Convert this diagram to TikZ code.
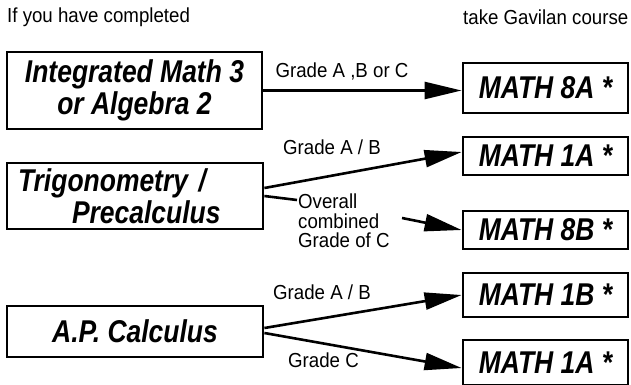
\documentclass[tikz,border=0pt]{standalone}
\usepackage{fontspec}
\setmainfont{Liberation Sans}
\newfontfamily\boxfont[FakeStretch=0.84]{Liberation Sans}
\newfontfamily\lblfont[FakeStretch=0.92]{Liberation Sans}
\usetikzlibrary{arrows.meta}
\begin{document}
\begin{tikzpicture}[x=1pt,y=-1pt,
  box/.style={draw, line width=2.8pt, inner sep=0pt, font=\boxfont\fontsize{31.5}{32}\selectfont\bfseries\itshape, align=center},
  lbl/.style={inner sep=0pt, font=\lblfont\fontsize{20.3}{19.5}\selectfont},
  conn/.style={line width=2.6pt, -{Triangle[length=37pt,width=17pt]}},
  plain/.style={line width=2.6pt}
  ]
\useasboundingbox (0,0) rectangle (631,385);
% header
\node[lbl, anchor=west] (h1) at (7,17) {If you have completed};
\node[lbl, anchor=west] (h2) at (463,17) {take Gavilan course};
% left boxes
\node[box, minimum width=255pt, minimum height=77pt] (b1) at (134.5,90.5) {Integrated Math 3\\or Algebra 2};
\node[box, minimum width=256pt, minimum height=66pt, text width=234pt, inner xsep=11pt, align=left] (b2) at (135,196) {Trigonometry /\\\hspace*{54pt}Precalculus};
\node[box, minimum width=256pt, minimum height=51pt] (b3) at (135,331.5) {A.P. Calculus};
% right boxes
\node[box, minimum width=165pt, minimum height=50pt] (m8a) at (545.5,88) {MATH 8A *};
\node[box, minimum width=165pt, minimum height=38pt] (m1a) at (545.5,156) {MATH 1A *};
\node[box, minimum width=165pt, minimum height=38pt] (m8b) at (545.5,230) {MATH 8B *};
\node[box, minimum width=165pt, minimum height=44pt] (m1b) at (545.5,295) {MATH 1B *};
\node[box, minimum width=165pt, minimum height=45pt] (m1c) at (545.5,362.5) {MATH 1A *};
% labels
\node[lbl] (l1) at (342,71) {Grade A ,B or C};
\node[lbl] (l2) at (332,147) {Grade A / B};
\node[lbl, anchor=west, align=left, inner sep=1pt] (l3) at (297,221) {Overall\\combined\\Grade of C};
\node[lbl] (l4) at (322,292) {Grade A / B};
\node[lbl] (l5) at (323.5,360) {Grade C};
\coordinate (c1) at (297,200);
\coordinate (c2) at (402,218);
% connectors
\draw[conn] (b1.east) -- (b1.east -| m8a.west);
\draw[conn] ([yshift=8pt]b2.east) -- ([yshift=4pt]m1a.west);
\draw[plain] (b2.east) -- (c1);
\draw[conn] (c2) -- (m8b.west);
\draw[conn] ([yshift=3.5pt]b3.east) -- (m1b.west);
\draw[conn] ([yshift=-1.5pt]b3.east) -- ([yshift=-5.5pt]m1c.west);
\end{tikzpicture}
\end{document}
